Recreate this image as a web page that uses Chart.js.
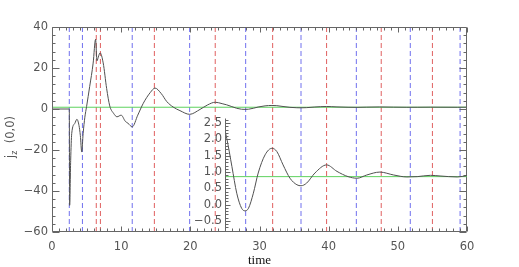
<!DOCTYPE html>
<html>
<head>
<meta charset="utf-8">
<script src="https://cdn.jsdelivr.net/npm/chart.js@4.4.1/dist/chart.umd.min.js"></script>
<style>
html, body { margin: 0; padding: 0; background: #fff; }
#wrap { position: relative; width: 519px; height: 267px; }
#wrap canvas { position: absolute; left: 0; top: 0; }
</style>
</head>
<body>
<div id="wrap">
<canvas id="mainChart" width="519" height="267"></canvas>
<canvas id="insetChart" width="519" height="267"></canvas>
</div>
<script>
// j_z(0,0) against time
var times = [0, 2.5, 2.55, 2.7, 2.85, 3.3, 3.6, 3.9, 4.1, 4.3, 4.5, 4.75, 5.0, 5.45, 5.95, 6.3, 6.5, 6.75, 6.95,
    7.4, 7.9, 8.35, 8.9, 9.4, 10.0, 10.6, 11.0, 11.6, 12.4, 13.2, 14.2, 14.9, 15.8, 16.6, 17.5, 18.5, 19.9,
    21.4, 22.5, 23.6, 24.6, 25.25, 26.0, 26.7, 27.4, 27.9, 28.4, 29.1, 29.8, 30.8, 31.8, 32.5, 33.4, 34.4,
    35.4, 36.0, 36.8, 38.0, 39.7, 41.2, 42.8, 44.1, 45.5, 47.4, 49.4, 51.3, 52.8, 54.7, 56.1, 58.6, 60];
var jz = [0, 0, -47, -25, -12, -7, -5, -8, -13, -21, -12, -4, 1.2, 11, 22.4, 34, 23.5, 26, 27.4,
    22.5, 10, 1.5, -2.1, -3.8, -3, -6, -7, -8.7, -3, 2.8, 8, 10.2, 7.5, 3.6, 1, -0.8, -2.6,
    -0.2, 2, 3.3, 2.6, 2.04, 1.17, 0.35, -0.11, -0.19, -0.11, 0.35, 0.97, 1.53, 1.73, 1.63, 1.22, 0.81,
    0.61, 0.58, 0.66, 0.97, 1.22, 1.02, 0.86, 0.81, 0.91, 1.0, 0.91, 0.85, 0.86, 0.9, 0.88, 0.85, 0.89];
var meanLevel = 0.86;

// dashed markers (blue = minima, red = maxima)
var minTimes = [2.5, 4.4, 11.6, 19.9, 28.0, 36.0, 44.0, 51.8, 59.0];
var maxTimes = [6.4, 7.0, 14.8, 23.6, 31.9, 39.7, 47.6, 55.0];

var xTicks = [0, 10, 20, 30, 40, 50, 60];
var yTicks = [-60, -40, -20, 0, 20, 40];
var insetTicks = [-0.5, 0, 0.5, 1, 1.5, 2, 2.5];

var tickFont = { family: 'DejaVu Sans', size: 11.5 };
var labelColor = '#555';
var axisColor = '#666';
var curveColor = '#505050';

function signed(v, digits) {
    var s = Math.abs(v).toFixed(digits);
    return v < 0 ? '\u2212' + s : s;
}

var points = times.map((t, i) => ({ x: t, y: jz[i] }));

// box + inward ticks, IDL style
var framePlugin = {
    id: 'frame',
    afterDraw(chart, args, o) {
        var ctx = chart.ctx, a = chart.chartArea;
        var xs = chart.scales.x, ys = chart.scales.y;
        ctx.save();
        ctx.strokeStyle = axisColor;
        ctx.lineWidth = 1;
        ctx.beginPath();
        var L = a.left + 0.5, R = a.right - 0.5, T = a.top + 0.5, B = a.bottom - 0.5;
        if (o.sides.includes('left')) { ctx.moveTo(L, T); ctx.lineTo(L, B); }
        if (o.sides.includes('right')) { ctx.moveTo(R, T); ctx.lineTo(R, B); }
        if (o.sides.includes('top')) { ctx.moveTo(L, T); ctx.lineTo(R, T); }
        if (o.sides.includes('bottom')) { ctx.moveTo(L, B); ctx.lineTo(R, B); }
        if (o.xMinor) {
            for (var v = xs.min; v <= xs.max + 1e-6; v += o.xMinor) {
                var px = Math.round(xs.getPixelForValue(v)) + 0.5;
                var len = Math.abs(v / o.xMajor - Math.round(v / o.xMajor)) < 1e-6 ? o.xMajorLen : o.xMinorLen;
                if (o.sides.includes('bottom')) { ctx.moveTo(px, B); ctx.lineTo(px, B - len); }
                if (o.sides.includes('top')) { ctx.moveTo(px, T); ctx.lineTo(px, T + len); }
            }
        }
        if (o.yMinor) {
            var start = Math.ceil(ys.min / o.yMinor - 1e-6) * o.yMinor;
            for (var w = start; w <= ys.max + 1e-6; w += o.yMinor) {
                var py = Math.round(ys.getPixelForValue(w)) + 0.5;
                var l2 = Math.abs(w / o.yMajor - Math.round(w / o.yMajor)) < 1e-6 ? o.yMajorLen : o.yMinorLen;
                if (o.sides.includes('left')) { ctx.moveTo(L, py); ctx.lineTo(L + l2, py); }
                if (o.sides.includes('right')) { ctx.moveTo(R, py); ctx.lineTo(R - l2, py); }
            }
        }
        ctx.stroke();
        ctx.restore();
    }
};

// y title with a subscript z
var yTitlePlugin = {
    id: 'ytitle',
    afterDraw(chart, args, o) {
        if (!o.show) return;
        var ctx = chart.ctx;
        ctx.save();
        ctx.fillStyle = labelColor;
        ctx.translate(14, 137);
        ctx.rotate(-Math.PI / 2);
        var big = '11.5px "DejaVu Sans"', small = '8px "DejaVu Sans"';
        ctx.font = big;
        var w1 = ctx.measureText('j').width, w3 = ctx.measureText('  (0,0)').width;
        ctx.font = small;
        var w2 = ctx.measureText('z').width;
        var x0 = -(w1 + w2 + w3) / 2;
        ctx.textBaseline = 'alphabetic';
        ctx.font = big;
        ctx.fillText('j', x0, 0);
        ctx.font = small;
        ctx.fillText('z', x0 + w1, 3);
        ctx.font = big;
        ctx.fillText('  (0,0)', x0 + w1 + w2, 0);
        ctx.restore();
    }
};

var mainDatasets = [
    { data: points, borderColor: curveColor, borderWidth: 1, pointRadius: 0, cubicInterpolationMode: 'monotone' },
    { data: [{ x: 0, y: meanLevel }, { x: 60, y: meanLevel }], borderColor: '#5ed25e', borderWidth: 1, pointRadius: 0 }
];
minTimes.forEach(t => mainDatasets.push({
    data: [{ x: t, y: -60 }, { x: t, y: 40 }], borderColor: '#7070ee', borderWidth: 1, borderDash: [5, 3], pointRadius: 0
}));
maxTimes.forEach(t => mainDatasets.push({
    data: [{ x: t, y: -60 }, { x: t, y: 40 }], borderColor: '#e06060', borderWidth: 1, borderDash: [5, 3], pointRadius: 0
}));

var mainChart = new Chart(document.getElementById('mainChart').getContext('2d'), {
    type: 'line',
    data: { datasets: mainDatasets },
    plugins: [framePlugin, yTitlePlugin],
    options: {
        responsive: false,
        animation: false,
        layout: { padding: { top: 27, right: 52, left: 0, bottom: 0 } },
        plugins: {
            legend: { display: false },
            tooltip: { enabled: false },
            frame: { sides: ['left', 'right', 'top', 'bottom'], xMinor: 1, xMajor: 10, xMinorLen: 3, xMajorLen: 5,
                yMinor: 4, yMajor: 20, yMinorLen: 3, yMajorLen: 7 },
            ytitle: { show: true }
        },
        scales: {
            x: {
                type: 'linear', min: 0, max: 60,
                afterBuildTicks: s => { s.ticks = xTicks.map(v => ({ value: v })); },
                afterFit: s => { s.height = 35; },
                grid: { display: false, drawTicks: false },
                border: { display: false },
                ticks: { font: tickFont, color: labelColor, padding: 8, maxRotation: 0, autoSkip: false },
                title: { display: true, text: 'time', color: '#111', padding: 0,
                    font: { family: 'Liberation Serif', size: 13, lineHeight: 1 } }
            },
            y: {
                type: 'linear', min: -60, max: 40,
                afterBuildTicks: s => { s.ticks = yTicks.map(v => ({ value: v })); },
                afterFit: s => { s.width = 52; },
                grid: { display: false, drawTicks: false },
                border: { display: false },
                ticks: { font: tickFont, color: labelColor, padding: 4, callback: v => signed(v, 0) }
            }
        }
    }
});

var insetChart = new Chart(document.getElementById('insetChart').getContext('2d'), {
    type: 'line',
    data: {
        datasets: [
            { data: points, borderColor: curveColor, borderWidth: 1, pointRadius: 0, cubicInterpolationMode: 'monotone' },
            { data: [{ x: 25, y: meanLevel }, { x: 60, y: meanLevel }], borderColor: '#5ed25e', borderWidth: 1, pointRadius: 0 }
        ]
    },
    plugins: [framePlugin],
    options: {
        responsive: false,
        animation: false,
        layout: { padding: { top: 118, right: 52, left: 195, bottom: 35 } },
        plugins: {
            legend: { display: false },
            tooltip: { enabled: false },
            frame: { sides: ['left'], yMinor: 0.1, yMajor: 0.5, yMinorLen: 3, yMajorLen: 5 }
        },
        scales: {
            x: { type: 'linear', min: 25, max: 60, display: false },
            y: {
                type: 'linear', min: -0.84, max: 2.66,
                afterBuildTicks: s => { s.ticks = insetTicks.map(v => ({ value: v })); },
                afterFit: s => { s.width = 30; },
                grid: { display: false, drawTicks: false },
                border: { display: false },
                ticks: { font: tickFont, color: labelColor, padding: 3, callback: v => signed(v, 1) }
            }
        }
    }
});
</script>
</body>
</html>
